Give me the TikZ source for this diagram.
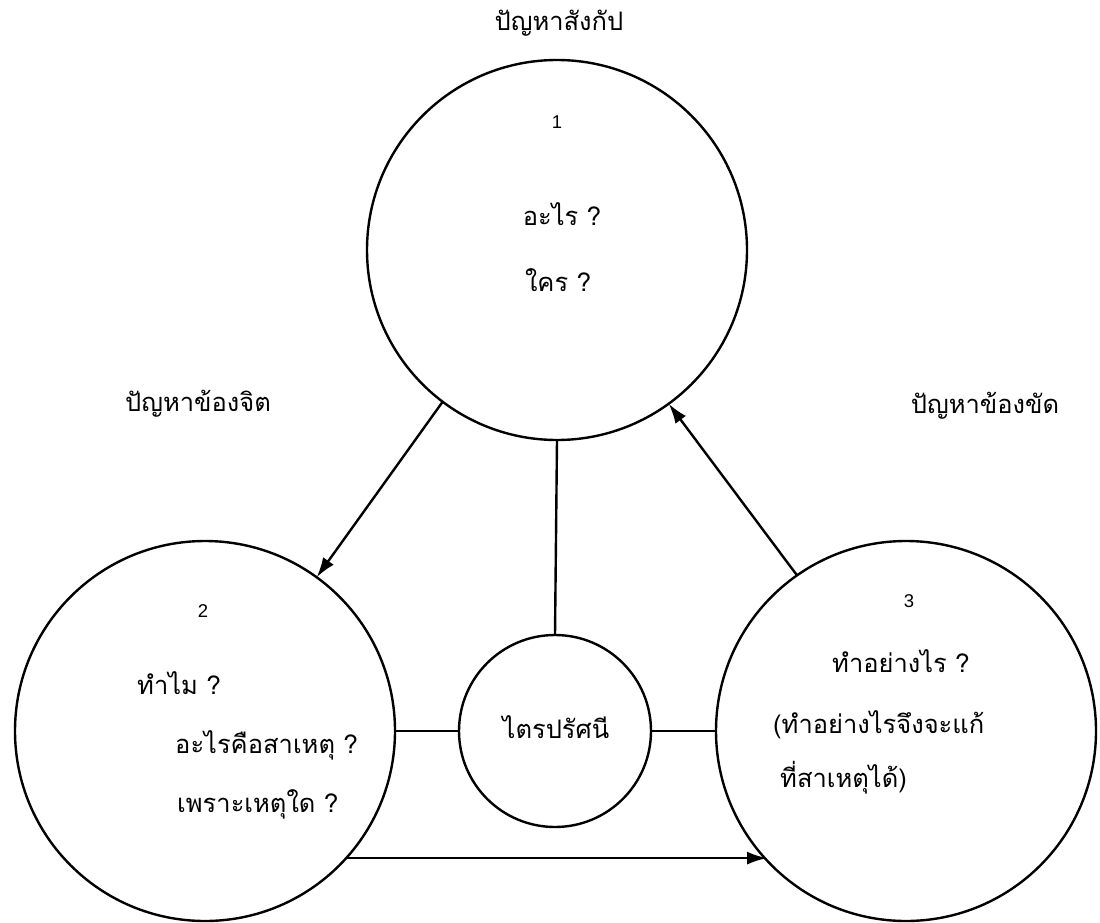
\documentclass[tikz,border=0pt]{standalone}
\usepackage{fontspec}
\newfontfamily\thaif[Script=Thai]{Loma}
\newfontfamily\numf{Liberation Sans}
\usetikzlibrary{arrows.meta}
\tikzset{
  bigc/.style={draw, circle, line width=2.4pt, minimum size=380pt, inner sep=0pt, outer sep=0pt},
  smallc/.style={draw, circle, line width=2.4pt, minimum size=192pt, inner sep=0pt, outer sep=0pt},
  conn/.style={line width=2.4pt},
  arr/.style={conn, -{Latex[length=20pt,width=13pt]}},
  lbl/.style={font=\thaif\fontsize{25.5}{30}\selectfont, inner sep=0pt},
  num/.style={font=\numf\fontsize{18.5}{22}\selectfont, inner sep=0pt}
}
\begin{document}
\begin{tikzpicture}[x=1pt,y=1pt]
\useasboundingbox (0,0) rectangle (1100,-923);
% circles
\node[bigc] (c1) at (557,-250) {};
\node[bigc] (c2) at (205,-731) {};
\node[bigc] (c3) at (906,-731) {};
\node[smallc] (c0) at (555,-731) {};
% connectors
\draw[arr] (c1.233) -- (c2.54);
\draw[arr] (c3.125.6) -- (c1.306.6);
\draw[arr] (c2.318) -- (c2.318 -| c3.223);
\draw[conn] (c1.south) -- (c0.north);
\draw[conn] (c2.east) -- (c0.west);
\draw[conn] (c0.east) -- (c3.west);
% outer labels
\node[lbl, anchor=base] (t1) at (559,-31) {ปัญหาสังกัป};
\node[lbl, anchor=base] (t2) at (198,-411) {ปัญหาข้องจิต};
\node[lbl, anchor=base] (t3) at (985,-413) {ปัญหาข้องขัด};
% circle 1
\node[num, anchor=base] (n1) at (557,-129) {1};
\node[lbl, anchor=base] (q1a) at (562,-225) {อะไร ?};
\node[lbl, anchor=base] (q1b) at (558,-291) {ใคร ?};
% circle 2
\node[num, anchor=base] (n2) at (203,-617) {2};
\node[lbl, anchor=base west] (q2a) at (137,-694) {ทำไม ?};
\node[lbl, anchor=base west] (q2b) at (175,-753) {อะไรคือสาเหตุ ?};
\node[lbl, anchor=base west] (q2c) at (177,-812) {เพราะเหตุใด ?};
% circle 3
\node[num, anchor=base] (n3) at (909,-607) {3};
\node[lbl, anchor=base west] (q3a) at (832,-672) {ทำอย่างไร ?};
\node[lbl, anchor=base west] (q3b) at (773,-733) {(ทำอย่างไรจึงจะแก้};
\node[lbl, anchor=base west] (q3c) at (780,-787) {ที่สาเหตุได้)};
% centre
\node[lbl, anchor=base] (q0) at (556,-738) {ไตรปรัศนี};
\end{tikzpicture}
\end{document}
